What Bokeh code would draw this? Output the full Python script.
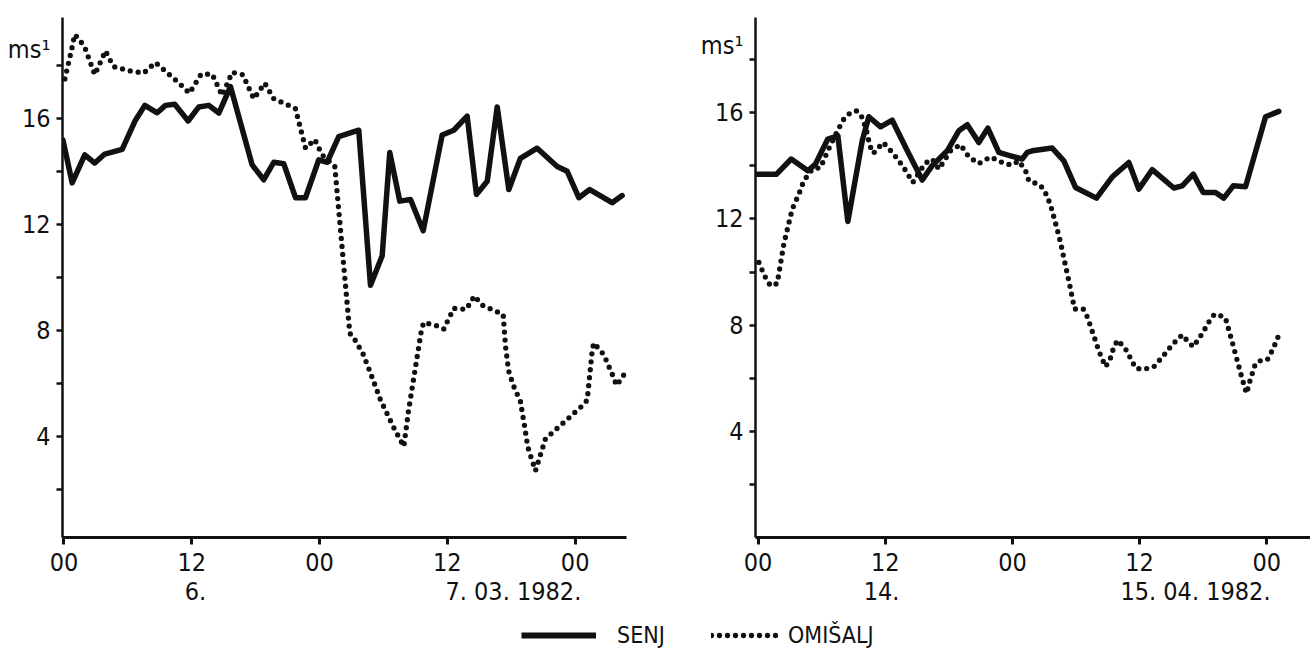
from bokeh.plotting import figure
from bokeh.layouts import column, row
from bokeh.models import FixedTicker, Legend, LegendItem, LinearAxis, Range1d
from bokeh.embed import file_html
from bokeh.resources import INLINE

FONT = "DejaVu Sans Condensed"
INK = "#111111"

# ---------------- data (hours from 00 of the first day, wind speed in m/s) ----------------
# Panel 1 : 6.-7. 03. 1982.
senj1_h = [-0.1, 0.77, 1.95, 2.89, 3.83, 5.46, 6.71, 7.59, 8.75, 9.53,
           10.40, 11.66, 12.66, 13.60, 14.54, 15.63, 17.67, 18.76, 19.70, 20.64,
           21.74, 22.68, 23.92, 24.71, 25.80, 27.68, 28.78, 29.88, 30.59, 31.53,
           32.54, 33.73, 35.51, 36.60, 37.86, 38.73, 39.74, 40.68, 41.77, 42.86,
           44.43, 46.31, 47.25, 48.34, 49.37, 51.47, 52.41]
senj1_v = [15.19, 13.57, 14.63, 14.32, 14.66, 14.84, 15.94, 16.50, 16.22, 16.50,
           16.54, 15.91, 16.44, 16.50, 16.21, 17.21, 14.25, 13.69, 14.35, 14.29,
           13.01, 13.01, 14.44, 14.35, 15.32, 15.56, 9.70, 10.82, 14.72, 12.88,
           12.94, 11.76, 15.38, 15.56, 16.09, 13.13, 13.63, 16.44, 13.32, 14.50,
           14.88, 14.19, 14.01, 13.01, 13.32, 12.82, 13.09]

omis1_h = [0.08, 0.70, 1.01, 1.55, 2.02, 2.89, 3.90, 4.27, 4.68, 5.31,
           6.08, 7.49, 8.59, 9.84, 10.78, 11.78, 12.88, 13.92, 14.85, 15.79,
           16.79, 17.82, 18.85, 19.70, 21.11, 21.74, 22.68, 23.55, 24.24, 25.43,
           26.84, 27.37, 28.09, 28.71, 29.72, 31.03, 31.91, 32.35, 33.57, 33.78,
           35.04, 35.66, 36.60, 37.77, 38.54, 39.27, 41.24, 41.46, 41.76, 42.18,
           42.86, 43.24, 43.55, 44.27, 45.21, 46.24, 47.40, 48.56, 49.13, 49.60,
           49.75, 50.69, 51.62, 51.88, 52.41, 52.82]
omis1_v = [17.50, 18.58, 19.18, 18.93, 18.62, 17.66, 18.56, 18.25, 17.96, 17.90,
           17.81, 17.72, 18.12, 17.68, 17.35, 16.96, 17.68, 17.68, 16.87, 17.75,
           17.66, 16.75, 17.34, 16.75, 16.50, 16.37, 14.88, 15.21, 14.63, 14.19,
           7.89, 7.61, 7.10, 6.46, 5.37, 4.27, 3.61, 4.96, 8.02, 8.30,
           8.17, 8.05, 8.83, 8.79, 9.30, 8.95, 8.60, 7.39, 6.46, 5.93,
           5.31, 4.40, 3.59, 2.69, 3.90, 4.27, 4.69, 5.11, 5.36, 7.23,
           7.52, 7.08, 6.21, 5.92, 6.21, 6.48]

# Panel 2 : 14.-15. 04. 1982.
senj2_h = [-0.08, 1.75, 3.13, 4.70, 5.42, 6.58, 7.53, 8.47, 9.83, 10.45,
           11.56, 12.66, 14.08, 15.49, 16.43, 17.85, 18.94, 19.74, 20.83, 21.68,
           22.72, 23.82, 24.92, 25.40, 25.87, 27.75, 28.85, 29.95, 31.93, 33.42,
           34.98, 35.92, 37.19, 39.23, 40.02, 41.06, 42.00, 43.16, 43.94, 44.83,
           45.99, 47.88, 49.13]
senj2_v = [13.68, 13.68, 14.25, 13.81, 14.06, 15.00, 15.12, 11.90, 14.94, 15.84,
           15.46, 15.71, 14.56, 13.46, 14.00, 14.56, 15.31, 15.54, 14.87, 15.41,
           14.50, 14.37, 14.25, 14.50, 14.56, 14.66, 14.18, 13.18, 12.78, 13.58,
           14.12, 13.12, 13.85, 13.16, 13.24, 13.68, 12.99, 12.99, 12.78, 13.24,
           13.21, 15.84, 16.04]

omis2_h = [0.08, 0.61, 1.18, 1.81, 2.06, 2.43, 2.81, 3.23, 3.85, 4.32,
           5.11, 5.90, 6.58, 7.53, 8.09, 8.73, 9.29, 9.83, 10.24, 10.55,
           10.87, 11.81, 12.75, 13.70, 14.60, 15.74, 16.43, 17.06, 18.16, 19.10,
           19.89, 20.83, 21.93, 23.35, 23.98, 24.60, 25.24, 25.55, 26.58, 27.03,
           27.59, 28.16, 28.54, 28.85, 29.32, 29.64, 29.86, 30.68, 31.06, 31.62,
           32.15, 32.78, 33.19, 33.57, 33.94, 34.67, 35.30, 35.61, 36.34, 37.34,
           38.23, 39.08, 40.02, 40.49, 41.06, 41.91, 42.69, 43.07, 43.63, 44.10,
           44.79, 45.21, 45.68, 46.08, 46.46, 46.93, 47.41, 48.04, 48.42, 48.67,
           49.14]
omis2_v = [10.36, 9.86, 9.48, 9.57, 10.17, 11.05, 11.68, 12.37, 12.93, 13.43,
           13.87, 13.93, 14.56, 15.34, 15.75, 16.00, 16.06, 15.81, 15.31, 14.75,
           14.46, 14.87, 14.46, 13.96, 13.37, 14.08, 14.25, 13.87, 14.56, 14.79,
           14.33, 14.08, 14.33, 14.06, 14.03, 14.18, 13.81, 13.43, 13.28, 13.06,
           12.53, 11.70, 11.11, 10.53, 9.67, 9.05, 8.61, 8.61, 8.32, 7.67,
           7.04, 6.44, 6.69, 7.19, 7.44, 7.11, 6.64, 6.39, 6.34, 6.44,
           6.85, 7.27, 7.64, 7.42, 7.19, 7.69, 8.23, 8.42, 8.36, 8.27,
           7.29, 6.67, 5.98, 5.44, 5.98, 6.56, 6.67, 6.70, 6.98, 7.19,
           7.64]

x_ticks = [0, 12, 24, 36, 48]
x_tick_labels = ["00", "12", "00", "12", "00"]
y_ticks = [4, 8, 12, 16]
y_tick_labels = ["4", "8", "12", "16"]
y_minor_ticks = [2, 4, 6, 8, 10, 12, 14, 16, 18]
unit_label = "ms¹"
unit_pos1, unit_pos2 = 18.6, 18.5
# date captions (position in hours = centre of the caption)
dates1_pos = [12.35, 42.2]
dates1_txt = ["6.", "7. 03. 1982."]
dates2_pos = [11.65, 41.27]
dates2_txt = ["14.", "15. 04. 1982."]
series_names = ["SENJ", "OMIŠALJ"]

TOP_H = 615
LEG_H = 33
SOLID_W = 5.5
DOT_W = 5.3
DOT_DASH = "0 8"
FS = "25px"


def make_panel(width, bl, br, bt, bb, xr, yr, unit_pos, d_pos, d_txt):
    p = figure(width=width, height=TOP_H, x_range=Range1d(*xr), y_range=Range1d(*yr),
               output_backend="svg", toolbar_location=None,
               min_border_left=bl, min_border_right=br, min_border_top=bt, min_border_bottom=bb)
    p.outline_line_color = None
    p.grid.visible = False
    p.background_fill_color = "white"
    p.border_fill_color = "white"

    xa = p.xaxis[0]
    xa.ticker = FixedTicker(ticks=x_ticks)
    xa.major_label_overrides = {t: s for t, s in zip(x_ticks, x_tick_labels)}
    xa.axis_line_width = 3
    xa.axis_line_color = INK
    xa.major_tick_line_width = 3
    xa.major_tick_line_color = INK
    xa.major_tick_in = 0
    xa.major_tick_out = 7
    xa.minor_tick_line_color = None
    xa.major_label_standoff = 8
    xa.major_label_text_font = FONT
    xa.major_label_text_font_size = FS
    xa.major_label_text_color = INK

    # second row of x labels: the dates
    da = LinearAxis(ticker=FixedTicker(ticks=d_pos),
                    major_label_overrides={t: s for t, s in zip(d_pos, d_txt)})
    da.axis_line_color = None
    da.major_tick_line_color = None
    da.minor_tick_line_color = None
    da.major_tick_in = 0
    da.major_tick_out = 0
    da.major_label_standoff = 3
    da.major_label_text_font = FONT
    da.major_label_text_font_size = FS
    da.major_label_text_color = INK
    p.add_layout(da, "below")

    ya = p.yaxis[0]
    ya.ticker = FixedTicker(ticks=y_ticks + [unit_pos], minor_ticks=y_minor_ticks)
    ov = {t: s for t, s in zip(y_ticks, y_tick_labels)}
    ov[unit_pos] = unit_label
    ya.major_label_overrides = ov
    ya.axis_line_width = 2.5
    ya.axis_line_color = INK
    ya.major_tick_line_color = None
    ya.major_tick_in = 0
    ya.major_tick_out = 6
    ya.minor_tick_line_width = 2.5
    ya.minor_tick_line_color = INK
    ya.minor_tick_in = 0
    ya.minor_tick_out = 6
    ya.major_label_standoff = 6
    ya.major_label_text_font = FONT
    ya.major_label_text_font_size = FS
    ya.major_label_text_color = INK
    return p


p1 = make_panel(655, 62, 29, 13, TOP_H - 538, (-0.14, 52.82), (0.17, 19.82),
                unit_pos1, dates1_pos, dates1_txt)
p1.line(senj1_h, senj1_v, line_width=SOLID_W, color=INK, line_join="round", line_cap="round")
p1.line(omis1_h, omis1_v, line_width=DOT_W, color=INK, line_dash=DOT_DASH, line_cap="round")

p2 = make_panel(655, 100, 0, 17, TOP_H - 537, (-0.24, 52.12), (0.02, 19.57),
                unit_pos2, dates2_pos, dates2_txt)
p2.line(senj2_h, senj2_v, line_width=SOLID_W, color=INK, line_join="round", line_cap="round")
p2.line(omis2_h, omis2_v, line_width=DOT_W, color=INK, line_dash=DOT_DASH, line_cap="round")

# legend strip (its renderers carry the real series but lie outside the strip's ranges)
pl = figure(width=1310, height=LEG_H, x_range=Range1d(-100, -99), y_range=Range1d(-100, -99),
            x_axis_type=None, y_axis_type=None, output_backend="svg", toolbar_location=None,
            min_border=0)
pl.outline_line_color = None
pl.grid.visible = False
r_s = pl.line(senj1_h, senj1_v, line_width=6, color=INK, line_cap="butt")
r_o = pl.line(omis1_h, omis1_v, line_width=DOT_W, color=INK, line_dash=DOT_DASH, line_cap="round")
common = dict(orientation="horizontal", glyph_height=20, label_height=20, padding=0, margin=0,
              border_line_color=None, background_fill_alpha=0, label_text_font=FONT,
              label_text_font_size="23px", label_text_color=INK)
leg1 = Legend(items=[LegendItem(label=series_names[0], renderers=[r_s])],
              location=(521, 0), glyph_width=75, label_standoff=21, **common)
leg2 = Legend(items=[LegendItem(label=series_names[1], renderers=[r_o])],
              location=(711, 0), glyph_width=71, label_standoff=6, **common)
pl.add_layout(leg1)
pl.add_layout(leg2)

layout = column(row(p1, p2), pl)
open("out.html", "w").write(file_html(layout, INLINE))
